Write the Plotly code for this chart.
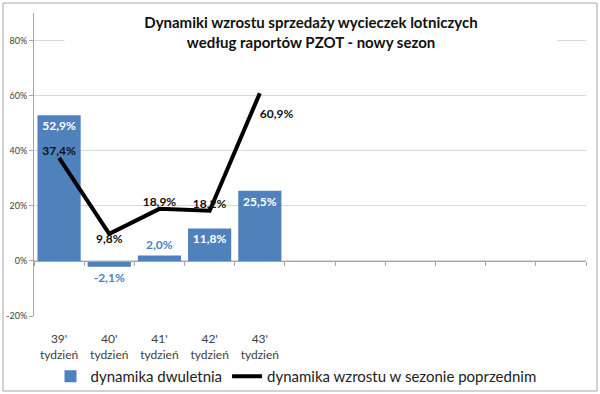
import plotly.graph_objects as go

categories = ["39'<br>tydzień", "40'<br>tydzień", "41'<br>tydzień", "42'<br>tydzień", "43'<br>tydzień"]
dwuletnia = [52.9, -2.1, 2.0, 11.8, 25.5]
poprzedni = [37.4, 9.8, 18.9, 18.2, 60.9]
n_slots = 11
y_ticks = [-20, 0, 20, 40, 60, 80]
y_ticklabels = ["-20%", "0%", "20%", "40%", "60%", "80%"]

BLUE = "#4f81bd"
FONT = "Lato, 'Open Sans', sans-serif"

xs = list(range(len(categories)))

def fmt(v):
    return f"{v:.1f}".replace(".", ",") + "%"

bar_pos = ["inside" if v > 5 else "outside" for v in dwuletnia]
bar_col = ["white" if v > 5 else BLUE for v in dwuletnia]

line_pos = ["top center", "bottom center", "top center", "top center", "bottom right"]
line_text = [fmt(v) for v in poprzedni]
line_text[-1] = "<br>" + line_text[-1]

PL, PR, PT, PB = 34, 14, 13, 78
PW, PH = 600 - PL - PR, 394 - PT - PB

fig = go.Figure()
fig.add_trace(go.Bar(
    x=xs, y=dwuletnia, name="dynamika dwuletnia",
    marker=dict(color=BLUE, line=dict(width=0)),
    width=0.86,
    text=[f"<b>{fmt(v)}</b>" for v in dwuletnia], textposition=bar_pos,
    insidetextanchor="end",
    textfont=dict(family=FONT, size=12, color=bar_col),
    outsidetextfont=dict(family=FONT, size=12, color=bar_col),
    insidetextfont=dict(family=FONT, size=12, color=bar_col),
    cliponaxis=False,
    textangle=0,
))
fig.add_trace(go.Scatter(
    x=xs, y=poprzedni, name="dynamika wzrostu w sezonie poprzednim",
    mode="lines+text", line=dict(color="black", width=4),
    text=[f"<b>{t}</b>" for t in line_text], textposition=line_pos,
    textfont=dict(family=FONT, size=12, color="#111111"),
    cliponaxis=False,
))

fig.update_layout(
    width=600, height=394,
    margin=dict(l=PL, r=PR, t=PT, b=PB, autoexpand=False),
    paper_bgcolor="white", plot_bgcolor="white",
    font=dict(family=FONT, color="#404040"),
    showlegend=True,
    legend=dict(orientation="h", x=(296 - PL) / PW, xanchor="center",
                y=-(360 - (PT + PH)) / PH, yanchor="top",
                bgcolor="rgba(0,0,0,0)",
                font=dict(family=FONT, size=15, color="#222222"),
                itemwidth=30, tracegroupgap=0),
    xaxis=dict(range=[-0.5, n_slots - 0.5], tickmode="array", tickvals=xs,
               ticktext=categories, showgrid=False, zeroline=False, showline=False,
               ticks="", ticklabelstandoff=14, automargin=False,
               tickfont=dict(family=FONT, size=12, color="#404040"),
               fixedrange=True),
    xaxis2=dict(range=[-0.5, n_slots - 0.5], overlaying="x", anchor="free",
                position=20 / 110, side="bottom", tickmode="array",
                tickvals=[i - 0.5 for i in range(n_slots + 1)],
                showticklabels=False, ticks="outside", ticklen=4, tickcolor="#a6a6a6",
                showline=True, linecolor="#a6a6a6", linewidth=1, showgrid=False,
                zeroline=False, automargin=False),
    yaxis=dict(range=[-20, 90], tickmode="array", tickvals=y_ticks, ticktext=y_ticklabels,
               showgrid=True, gridcolor="#d9d9d9", gridwidth=1, zeroline=False,
               showline=True, linecolor="#a6a6a6", linewidth=1,
               ticks="outside", ticklen=4, tickcolor="#a6a6a6", automargin=False,
               tickfont=dict(family=FONT, size=9, color="#404040")),
    annotations=[dict(
        text="<b>Dynamiki wzrostu sprzedaży wycieczek lotniczych<br>według raportów PZOT - nowy sezon</b>",
        xref="paper", yref="paper", x=(311 - PL) / PW, y=(PT + PH - 32) / PH,
        xanchor="center", yanchor="middle", showarrow=False,
        font=dict(family=FONT, size=15, color="#111111"),
        bgcolor="white", width=490, height=46, align="center")],
    shapes=[dict(type="rect", xref="paper", yref="paper",
                 x0=(3 - PL) / PW, x1=(597 - PL) / PW,
                 y0=(PT + PH - 391) / PH, y1=(PT + PH - 3) / PH,
                 line=dict(color="#a6a6a6", width=1), layer="below")],
)
fig.add_trace(go.Scatter(x=[], y=[], xaxis="x2", showlegend=False))

fig.write_html("out.html", config={"displayModeBar": False},
               post_script="document.body.style.margin='0';document.body.style.overflow='hidden';")
